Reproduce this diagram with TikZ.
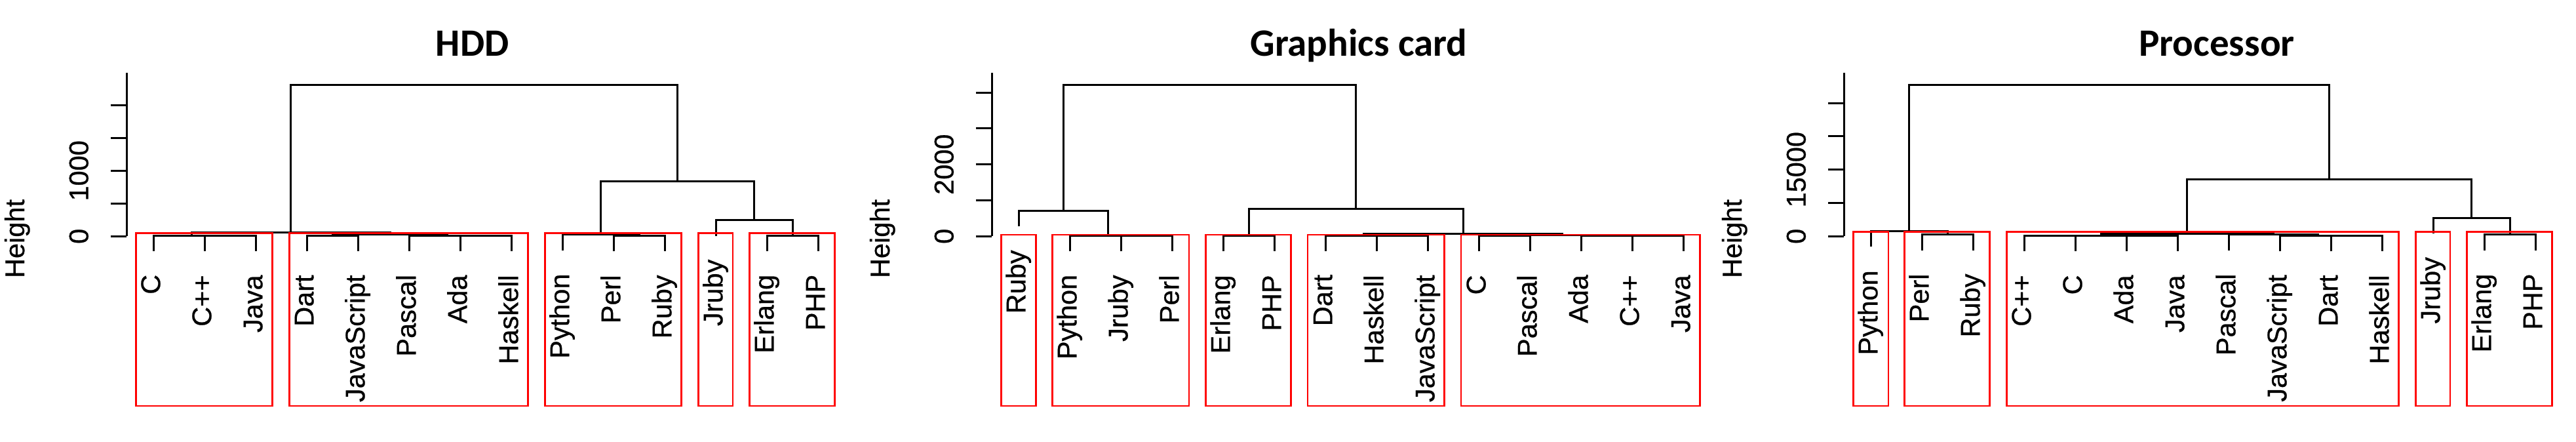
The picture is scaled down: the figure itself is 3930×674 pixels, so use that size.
\documentclass[tikz,border=0pt]{standalone}
\usepackage{fontspec}
\setmainfont{Liberation Sans}
\newfontfamily\labfamily[FakeBold=0.6]{Liberation Sans}
\newfontfamily\titlefamily{Carlito}
\newcommand{\labfont}{\labfamily\fontsize{41.5}{48}\selectfont}
\newcommand{\ttlfont}{\titlefamily\bfseries\fontsize{59}{68}\selectfont}
% leaf: name, x, y of parent merge, label
\newcommand{\leaf}[4]{%
  \coordinate (#1) at ({#2},{#3+23.8});
  \node[lab] (#1-l) at ({#2+10},{#3+59.6}) {#4};}
% merge: name, position, child a, child b
\newcommand{\mrg}[4]{%
  \coordinate (#1) at #2;
  \draw[den] (#3) |- (#1) -| (#4);}
% axis: prefix, x, tick spacing, label
\newcommand{\yaxis}[4]{%
  \coordinate (#1-axtop) at ({#2},110.9);
  \coordinate (#1-axbot) at ({#2},360.3);
  \draw[den] (#1-axtop) -- (#1-axbot);
  \foreach \k in {0,...,4}{\draw[den] ({#2-24.6},{360.3-\k*#3}) -- ({#2},{360.3-\k*#3});}
  \node[tick] (#1-t0) at ({#2-58.8},360.3) {0};
  \node[tick] (#1-t2) at ({#2-58.8},{360.3-2*#3}) {#4};
  \node[tick] (#1-yl) at ({#2-156.4},364) {Height};}
\begin{document}
\begin{tikzpicture}[x=1pt,y=-1pt,
  den/.style={line width=3pt},
  box/.style={draw=red,line width=2.6pt},
  lab/.style={rotate=90,anchor=base east,inner sep=0pt,font=\labfont},
  tick/.style={rotate=90,anchor=base,inner sep=0pt,font=\labfont},
  ttl/.style={anchor=base,inner sep=0pt,font=\ttlfont}]
\useasboundingbox[fill=white] (0,0) rectangle (3930,674);

% ================= HDD =================
\node[ttl] (h-title) at (720.7,86) {HDD};
\yaxis{h}{193.4}{50}{1000}
\leaf{h-C}{234.3}{359.0}{C}
\leaf{h-Cpp}{312.3}{359.6}{C++}
\leaf{h-Java}{390.3}{359.6}{Java}
\leaf{h-Dart}{468.3}{359.6}{Dart}
\leaf{h-JS}{546.3}{359.6}{JavaScript}
\leaf{h-Pascal}{624.3}{359.2}{Pascal}
\leaf{h-Ada}{702.3}{359.6}{Ada}
\leaf{h-Haskell}{780.3}{359.6}{Haskell}
\leaf{h-Python}{858.3}{357.7}{Python}
\leaf{h-Perl}{936.3}{359.6}{Perl}
\leaf{h-Ruby}{1014.3}{359.6}{Ruby}
\leaf{h-Jruby}{1092.3}{335.8}{Jruby}
\leaf{h-Erlang}{1170.3}{359.0}{Erlang}
\leaf{h-PHP}{1248.3}{359.0}{PHP}
\mrg{h-m1}{(351.3,359.6)}{h-Cpp}{h-Java}
\mrg{h-m2}{(292.8,359.0)}{h-C}{h-m1}
\mrg{h-m3}{(507.3,359.6)}{h-Dart}{h-JS}
\mrg{h-m4}{(741.3,359.6)}{h-Ada}{h-Haskell}
\mrg{h-m5}{(682.8,359.2)}{h-Pascal}{h-m4}
\mrg{h-m6}{(595.05,357.7)}{h-m3}{h-m5}
\mrg{h-m7}{(443.9,354.3)}{h-m2}{h-m6}
\mrg{h-m8}{(975.3,359.6)}{h-Perl}{h-Ruby}
\mrg{h-m9}{(916.8,357.7)}{h-Python}{h-m8}
\mrg{h-m10}{(1209.3,359.0)}{h-Erlang}{h-PHP}
\mrg{h-m11}{(1150.8,335.8)}{h-Jruby}{h-m10}
\mrg{h-m12}{(1033.8,276.4)}{h-m9}{h-m11}
\mrg{h-top}{(738.85,129.8)}{h-m7}{h-m12}
\draw[box] (207.6,355.5) rectangle (415.6,619);
\draw[box] (441.5,355.5) rectangle (805.4,619);
\draw[box] (831.3,355.5) rectangle (1039.3,619);
\draw[box] (1065.2,355.5) rectangle (1117.8,619);
\draw[box] (1143.3,355.5) rectangle (1273.2,619);

% ================= Graphics card =================
\node[ttl] (g-title) at (2073,86) {Graphics card};
\yaxis{g}{1513.4}{54.8}{2000}
\leaf{g-Ruby}{1554.4}{321.6}{Ruby}
\leaf{g-Python}{1632.4}{359.0}{Python}
\leaf{g-Jruby}{1710.4}{359.6}{Jruby}
\leaf{g-Perl}{1788.4}{359.6}{Perl}
\leaf{g-Erlang}{1866.4}{359.6}{Erlang}
\leaf{g-PHP}{1944.4}{359.6}{PHP}
\leaf{g-Dart}{2022.4}{359.0}{Dart}
\leaf{g-Haskell}{2100.4}{359.6}{Haskell}
\leaf{g-JS}{2178.4}{359.6}{JavaScript}
\leaf{g-C}{2256.4}{359.6}{C}
\leaf{g-Pascal}{2334.4}{359.6}{Pascal}
\leaf{g-Ada}{2412.4}{359.2}{Ada}
\leaf{g-Cpp}{2490.4}{359.6}{C++}
\leaf{g-Java}{2568.4}{359.6}{Java}
\mrg{g-m1}{(1749.4,359.6)}{g-Jruby}{g-Perl}
\mrg{g-m2}{(1690.9,359.0)}{g-Python}{g-m1}
\mrg{g-m3}{(1622.65,321.6)}{g-Ruby}{g-m2}
\mrg{g-m4}{(1905.4,359.6)}{g-Erlang}{g-PHP}
\mrg{g-m5}{(2139.4,359.6)}{g-Haskell}{g-JS}
\mrg{g-m6}{(2080.9,359.0)}{g-Dart}{g-m5}
\mrg{g-m7}{(2295.4,359.6)}{g-C}{g-Pascal}
\mrg{g-m8}{(2529.4,359.6)}{g-Cpp}{g-Java}
\mrg{g-m9}{(2470.9,359.2)}{g-Ada}{g-m8}
\mrg{g-m10}{(2383.15,358.8)}{g-m7}{g-m9}
\mrg{g-m11}{(2232.0,356.8)}{g-m6}{g-m10}
\mrg{g-m12}{(2068.7,318.1)}{g-m4}{g-m11}
\mrg{g-top}{(1845.7,129.8)}{g-m3}{g-m12}
\draw[box] (1527.2,358.1) rectangle (1580.7,619);
\draw[box] (1605.3,358.1) rectangle (1813.8,619);
\draw[box] (1839.2,358.1) rectangle (1969.2,619);
\draw[box] (1995.1,358.1) rectangle (2203.5,619);
\draw[box] (2229.0,358.1) rectangle (2593.7,619);

% ================= Processor =================
\node[ttl] (p-title) at (3382,86) {Processor};
\yaxis{p}{2813.4}{50.8}{15000}
\leaf{p-Python}{2854.3}{352.5}{Python}
\leaf{p-Perl}{2932.3}{357.7}{Perl}
\leaf{p-Ruby}{3010.3}{357.7}{Ruby}
\leaf{p-Cpp}{3088.3}{359.6}{C++}
\leaf{p-C}{3166.3}{359.6}{C}
\leaf{p-Ada}{3244.3}{359.6}{Ada}
\leaf{p-Java}{3322.3}{359.6}{Java}
\leaf{p-Pascal}{3400.3}{357.7}{Pascal}
\leaf{p-JS}{3478.3}{359.2}{JavaScript}
\leaf{p-Dart}{3556.3}{359.6}{Dart}
\leaf{p-Haskell}{3634.3}{359.6}{Haskell}
\leaf{p-Jruby}{3712.3}{332.3}{Jruby}
\leaf{p-Erlang}{3790.3}{357.7}{Erlang}
\leaf{p-PHP}{3868.3}{357.7}{PHP}
\mrg{p-m1}{(2971.3,357.7)}{p-Perl}{p-Ruby}
\mrg{p-m2}{(2912.8,352.5)}{p-Python}{p-m1}
\mrg{p-m3}{(3127.3,359.6)}{p-Cpp}{p-C}
\mrg{p-m4}{(3283.3,359.6)}{p-Ada}{p-Java}
\mrg{p-m5}{(3205.3,359.0)}{p-m3}{p-m4}
\mrg{p-m6}{(3595.3,359.6)}{p-Dart}{p-Haskell}
\mrg{p-m7}{(3536.8,359.2)}{p-JS}{p-m6}
\mrg{p-m8}{(3468.55,357.7)}{p-Pascal}{p-m7}
\mrg{p-m9}{(3336.9,356.0)}{p-m5}{p-m8}
\mrg{p-m10}{(3829.3,357.7)}{p-Erlang}{p-PHP}
\mrg{p-m11}{(3770.8,332.3)}{p-Jruby}{p-m10}
\mrg{p-m12}{(3553.85,273.0)}{p-m9}{p-m11}
\mrg{p-top}{(3233.3,129.8)}{p-m2}{p-m12}
\draw[box] (2827.6,353.4) rectangle (2881.1,619);
\draw[box] (2905.3,353.4) rectangle (3035.6,619);
\draw[box] (3061.5,353.4) rectangle (3659.3,619);
\draw[box] (3685.2,353.4) rectangle (3737.8,619);
\draw[box] (3763.3,353.4) rectangle (3893.2,619);
\end{tikzpicture}
\end{document}
